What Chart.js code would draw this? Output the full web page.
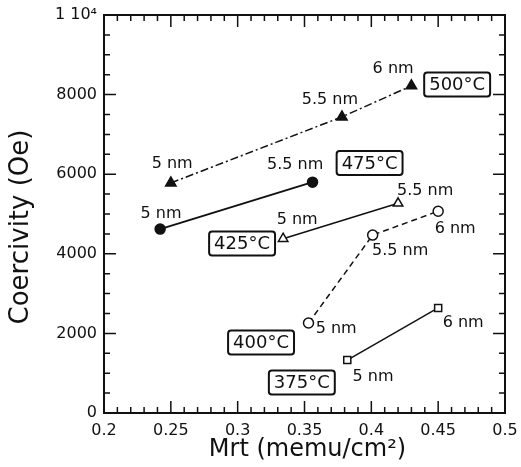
<!DOCTYPE html>
<html>
<head>
<meta charset="utf-8">
<script src="https://cdn.jsdelivr.net/npm/chart.js@4"></script>
<style>
  html, body { margin: 0; padding: 0; background: #fff; }
</style>
</head>
<body>
<canvas id="chart" width="521" height="467"></canvas>
<script>
// Mrt (memu/cm2) and coercivity (Oe) per anneal temperature
const mrt500 = [0.250, 0.378, 0.430];
const hc500  = [5780, 7440, 8220];
const mrt475 = [0.242, 0.356];
const hc475  = [4620, 5800];
const mrt425 = [0.334, 0.420];
const hc425  = [4380, 5270];
const mrt400 = [0.353, 0.401, 0.450];
const hc400  = [2260, 4470, 5070];
const mrt375 = [0.382, 0.450];
const hc375  = [1330, 2640];

const xTicks = [0.2, 0.25, 0.3, 0.35, 0.4, 0.45, 0.5];
const yTicks = [0, 2000, 4000, 6000, 8000, 10000];

const FONT = '"DejaVu Sans", sans-serif';
const INK = '#111';

// temperature boxes and thickness notes, placed in data units
const tempBoxes = [
    { text: '500°C', x: 0.4642, y: 8254 },
    { text: '475°C', x: 0.3987, y: 6281 },
    { text: '425°C', x: 0.3033, y: 4259 },
    { text: '400°C', x: 0.3175, y: 1771 },
    { text: '375°C', x: 0.3480, y: 766 }
];
const thickNotes = [
    { text: '5 nm',   x: 0.251,  y: 6256 },
    { text: '5.5 nm', x: 0.369,  y: 7864 },
    { text: '6 nm',   x: 0.4163, y: 8643 },
    { text: '5 nm',   x: 0.2427, y: 5000 },
    { text: '5.5 nm', x: 0.343,  y: 6231 },
    { text: '5 nm',   x: 0.3445, y: 4849 },
    { text: '5.5 nm', x: 0.4403, y: 5578 },
    { text: '5 nm',   x: 0.3737, y: 2111 },
    { text: '5.5 nm', x: 0.4216, y: 4070 },
    { text: '6 nm',   x: 0.4627, y: 4623 },
    { text: '6 nm',   x: 0.4687, y: 2261 },
    { text: '5 nm',   x: 0.4013, y: 904 }
];

function pts(xs, ys) {
    return xs.map((x, i) => ({ x: x, y: ys[i] }));
}

function series(xs, ys, style) {
    return Object.assign({
        data: pts(xs, ys),
        showLine: true,
        borderColor: INK,
        borderWidth: 1.5,
        pointBorderColor: INK,
        pointBorderWidth: 1.5,
        pointRadius: 5
    }, style);
}

const framePlugin = {
    id: 'frame',
    afterDraw(chart) {
        const ctx = chart.ctx;
        const a = chart.chartArea;
        const sx = chart.scales.x, sy = chart.scales.y;
        ctx.save();
        ctx.strokeStyle = INK;
        ctx.lineWidth = 2;
        ctx.strokeRect(a.left, a.top, a.right - a.left, a.bottom - a.top);

        ctx.lineWidth = 1.5;
        ctx.beginPath();
        // x ticks every 0.01, major every 0.05
        for (let i = 20; i <= 50; i++) {
            const px = sx.getPixelForValue(i / 100);
            const len = i % 5 === 0 ? 12 : 6;
            ctx.moveTo(px, a.bottom); ctx.lineTo(px, a.bottom - len);
            ctx.moveTo(px, a.top); ctx.lineTo(px, a.top + len);
        }
        // y ticks every 500, major every 2000
        for (let v = 0; v <= 10000; v += 500) {
            const py = sy.getPixelForValue(v);
            const len = v % 2000 === 0 ? 12 : 6;
            ctx.moveTo(a.left, py); ctx.lineTo(a.left + len, py);
            ctx.moveTo(a.right, py); ctx.lineTo(a.right - len, py);
        }
        ctx.stroke();

        // thickness notes
        ctx.fillStyle = INK;
        ctx.font = '16px ' + FONT;
        ctx.textAlign = 'center';
        ctx.textBaseline = 'middle';
        thickNotes.forEach(n => {
            ctx.fillText(n.text, sx.getPixelForValue(n.x), sy.getPixelForValue(n.y));
        });

        // boxed temperatures
        ctx.font = '18px ' + FONT;
        tempBoxes.forEach(b => {
            const cx = sx.getPixelForValue(b.x);
            const cy = sy.getPixelForValue(b.y);
            const w = ctx.measureText(b.text).width + 10;
            const h = 24;
            ctx.beginPath();
            ctx.roundRect(cx - w / 2, cy - h / 2, w, h, 3);
            ctx.fillStyle = '#fff';
            ctx.fill();
            ctx.lineWidth = 2;
            ctx.stroke();
            ctx.fillStyle = INK;
            ctx.fillText(b.text, cx, cy + 1);
        });

        // axis titles
        ctx.font = '24px ' + FONT;
        ctx.fillText('Mrt (memu/cm²)', (a.left + a.right) / 2 + 3, 450);
        ctx.save();
        ctx.translate(21, 227);
        ctx.rotate(-Math.PI / 2);
        ctx.font = '26px ' + FONT;
        ctx.fillText('Coercivity (Oe)', 0, 0);
        ctx.restore();
        ctx.restore();
    }
};

new Chart(document.getElementById('chart'), {
    type: 'scatter',
    data: {
        datasets: [
            series(mrt500, hc500, { label: '500°C', borderDash: [8, 3, 2, 3], pointStyle: 'triangle', pointRadius: 6, pointBackgroundColor: INK }),
            series(mrt475, hc475, { label: '475°C', borderWidth: 2, pointStyle: 'circle', pointBackgroundColor: INK }),
            series(mrt425, hc425, { label: '425°C', pointStyle: 'triangle', pointRadius: 5.5, pointBackgroundColor: '#fff' }),
            series(mrt400, hc400, { label: '400°C', borderDash: [6, 4], pointStyle: 'circle', pointBackgroundColor: '#fff' }),
            series(mrt375, hc375, { label: '375°C', pointStyle: 'rect', pointRadius: 5, pointBackgroundColor: '#fff' })
        ]
    },
    options: {
        responsive: false,
        animation: false,
        layout: { padding: { top: 15, right: 16, left: 0, bottom: 0 } },
        plugins: {
            legend: { display: false },
            tooltip: { enabled: false }
        },
        scales: {
            x: {
                type: 'linear',
                min: 0.2,
                max: 0.5,
                afterFit: s => { s.height = 54; s.paddingLeft = 0; s.paddingRight = 0; },
                afterBuildTicks: s => { s.ticks = xTicks.map(v => ({ value: v })); },
                grid: { display: false, drawTicks: false },
                border: { display: false },
                ticks: {
                    color: INK,
                    padding: 8,
                    maxRotation: 0,
                    font: { family: FONT, size: 16 },
                    callback: v => String(Number(v.toFixed(2)))
                }
            },
            y: {
                type: 'linear',
                min: 0,
                max: 10000,
                afterFit: s => { s.width = 104; s.paddingTop = 0; s.paddingBottom = 0; },
                afterBuildTicks: s => { s.ticks = yTicks.map(v => ({ value: v })); },
                grid: { display: false, drawTicks: false },
                border: { display: false },
                ticks: {
                    color: INK,
                    padding: 7,
                    font: { family: FONT, size: 16 },
                    callback: v => v === 10000 ? '1 10⁴' : String(v)
                }
            }
        }
    },
    plugins: [framePlugin]
});
</script>
</body>
</html>
